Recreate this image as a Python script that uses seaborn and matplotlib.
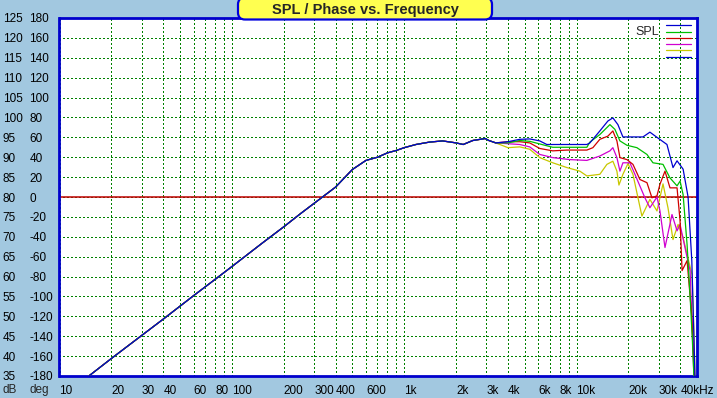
import numpy as np
import pandas as pd
import seaborn as sns
import matplotlib.pyplot as plt
from matplotlib.patches import FancyBboxPatch
from matplotlib.lines import Line2D
from matplotlib.ticker import NullLocator

# shared part of the response (all curves lie on top of each other here)
shared_freq = [12, 14.8, 20, 30, 40, 60, 80, 100, 150, 200, 250, 300, 400, 500, 600,
               700, 800, 900, 1000, 1170, 1400, 1670, 2000, 2200, 2500, 2950, 3100, 3400]
shared_spl = [32.0, 35.0, 39.4, 45.2, 49.3, 55.2, 59.3, 62.5, 68.4, 72.5, 75.8, 78.4, 82.5, 86.9, 89.2,
              90.0, 91.1, 91.7, 92.4, 93.2, 93.8, 94.1, 93.6, 93.2, 94.2, 94.7, 94.2, 93.6]

# high frequency part, one list per curve
blue_freq = [4000, 4680, 5350, 6120, 6720, 8790, 11480, 11950, 13650, 15200, 16250, 17380, 18580,
             20400, 24290, 26650, 29290, 33470, 36290, 38300, 41530, 44380, 46650, 48740]
blue_spl = [93.9, 94.5, 94.6, 94.1, 93.2, 93.2, 93.2, 93.6, 96.6, 99.1, 99.9, 98.2, 95.1,
            95.1, 95.1, 96.3, 95.0, 93.2, 87.4, 89.1, 87.0, 80.0, 64.0, 34.0]

green_freq = [4000, 4680, 5350, 6550, 7280, 11480, 11950, 13650, 15620, 16700, 17860, 19620, 22400,
              25620, 27760, 31750, 34850, 38300, 39880, 41530, 43800, 45600, 47000, 48070]
green_spl = [93.6, 94.2, 94.0, 93.0, 92.5, 92.5, 93.8, 95.7, 98.2, 97.0, 94.1, 93.0, 92.4,
             90.7, 88.6, 88.2, 84.8, 82.8, 84.0, 80.6, 68.0, 55.0, 44.0, 34.0]

red_freq = [4000, 4680, 5350, 6120, 7280, 8790, 11480, 12440, 13650, 15200, 16250, 17150, 17860,
            19620, 21250, 23320, 25620, 27390, 29290, 30480, 32600, 34850, 38300, 39880, 40960,
            43800, 46650, 48400]
red_spl = [93.9, 93.9, 93.6, 92.2, 91.6, 91.8, 91.8, 92.4, 94.5, 95.3, 96.6, 94.1, 89.9,
           89.4, 88.2, 84.4, 83.6, 79.8, 80.3, 83.2, 86.5, 82.3, 82.3, 74.0, 61.5,
           64.0, 50.0, 34.0]

magenta_freq = [4000, 4680, 5350, 6120, 7280, 9150, 11480, 13650, 15620, 16250, 17150, 17860, 18580,
                20400, 21820, 24930, 26650, 29290, 30480, 32600, 35800, 38300, 39880, 43800,
                45600, 48070]
magenta_spl = [93.4, 93.2, 92.6, 90.7, 89.9, 89.4, 89.2, 90.3, 91.6, 92.4, 89.9, 86.5, 88.6,
               88.6, 85.7, 79.8, 77.3, 80.0, 76.5, 67.3, 75.6, 71.5, 73.1, 64.8,
               61.5, 34.0]

yellow_freq = [4000, 4680, 5350, 6120, 7280, 8790, 10450, 11480, 13650, 15000, 16250, 17150, 17620,
               18580, 19880, 21250, 23950, 26650, 29290, 31750, 33930, 36290, 38830, 41530,
               43800, 46800, 48070, 48740]
yellow_spl = [92.4, 92.6, 92.0, 89.9, 88.6, 87.4, 86.5, 85.3, 85.7, 88.2, 89.0, 86.5, 83.0,
              85.7, 88.4, 85.7, 75.2, 79.4, 76.5, 83.3, 77.3, 69.3, 73.1, 69.8,
              65.5, 60.5, 45.0, 34.0]

db_ticks = list(range(35, 130, 5))
deg_ticks = list(range(-180, 200, 20))
grid_freq = [10, 20, 30, 40, 50, 60, 70, 80, 90,
             100, 200, 300, 400, 500, 600, 700, 800, 900,
             1000, 2000, 3000, 4000, 5000, 6000, 7000, 8000, 9000,
             10000, 20000, 30000, 40000]
freq_labels = {10: "10", 20: "20", 30: "30", 40: "40", 60: "60", 80: "80", 100: "100",
               200: "200", 300: "300", 400: "400", 600: "600", 1000: "1k", 2000: "2k",
               3000: "3k", 4000: "4k", 6000: "6k", 8000: "8k", 10000: "10k",
               20000: "20k", 30000: "30k", 40000: "40kHz"}

curves = {
    "yellow": (yellow_freq, yellow_spl, "#c8c800"),
    "magenta": (magenta_freq, magenta_spl, "#d000d0"),
    "red": (red_freq, red_spl, "#d00000"),
    "green": (green_freq, green_spl, "#00c000"),
    "blue": (blue_freq, blue_spl, "#0000d0"),
}

rows = []
for name, (fr, sp, _) in curves.items():
    for f, s in zip(shared_freq + fr, shared_spl + sp):
        rows.append((name, f, s))
df = pd.DataFrame(rows, columns=["curve", "freq", "spl"])
palette = {name: c for name, (_, _, c) in curves.items()}

sns.set_style("white")
plt.rcParams['font.family'] = ['Liberation Sans', 'DejaVu Sans']

bg = "#a2c8e0"
frame = "#0000cc"
fs = 8.5
fig = plt.figure(figsize=(7.17, 3.98), dpi=100, facecolor=bg)
ax = fig.add_axes([59.5 / 717, 22 / 398, 637.5 / 717, 358 / 398])
ax.set_facecolor("white")

sns.lineplot(data=df, x="freq", y="spl", hue="curve", palette=palette, hue_order=list(curves),
             estimator=None, legend=False, lw=0.9, ax=ax, zorder=3)

ax.set_xscale("log")
ax.set_xlim(10, 50000)
ax.set_ylim(35, 125)
ax.set_xlabel("")
ax.set_ylabel("")

ax.set_xticks(grid_freq, [freq_labels.get(f, "") for f in grid_freq])
ax.xaxis.set_minor_locator(NullLocator())
ax.set_yticks(db_ticks, [str(v) for v in db_ticks])
ax.tick_params(axis="both", length=0, labelsize=fs, colors="black")
ax.tick_params(axis="x", pad=6.5)
ax.tick_params(axis="y", pad=41)
for lab in ax.get_xticklabels() + ax.get_yticklabels():
    lab.set_horizontalalignment("left")

# crisp dotted grid like the original screen capture
ax.grid(True, color="#008000", linestyle=(0, (1, 2)), linewidth=0.75, antialiased=False, zorder=1)
ax.axhline(80, color="#c00000", lw=1.1, zorder=2)

for sp in ax.spines.values():
    sp.set_color(frame)
    sp.set_linewidth(2)
    sp.set_visible(True)

ax2 = ax.twinx()
ax2.set_ylim(-180, 180)
ax2.yaxis.tick_left()
ax2.set_yticks(deg_ticks, [str(v) for v in deg_ticks])
ax2.tick_params(axis="y", length=0, labelsize=fs, pad=21.6, colors="black")
for lab in ax2.get_yticklabels():
    lab.set_horizontalalignment("left")
for sp in ax2.spines.values():
    sp.set_visible(False)
ax2.grid(False)

fig.text(3 / 717, 1 - 390 / 398, "dB", fontsize=fs, ha="left", va="center")
fig.text(30 / 717, 1 - 390 / 398, "deg", fontsize=fs, ha="left", va="center")

# legend: six short lines with "SPL" to the left
handles = [Line2D([], [], color=palette[n], lw=0.9) for n in ["blue", "green", "red", "magenta", "yellow", "blue"]]
leg = ax.legend(handles, [" "] * 6, loc="upper right", bbox_to_anchor=(1 - 5 / 637.5, 1 - 5 / 358),
                frameon=False, fontsize=3.6, labelspacing=0.25, handlelength=5.0,
                handletextpad=0, borderpad=0, borderaxespad=0, markerfirst=True)
leg.set_zorder(5)
ax.text(0.94, 0.96, "SPL", transform=ax.transAxes, fontsize=9, ha="right", va="center", zorder=5)

# title box
box = FancyBboxPatch((238, 378.5), 254, 22, boxstyle="round,pad=0,rounding_size=7",
                     transform=None, facecolor="#ffff50", edgecolor="#0000dd", lw=1.6, zorder=10)
fig.patches.append(box)
fig.text(365 / 717, 1 - 10 / 398, "SPL / Phase vs. Frequency", fontsize=10.5, fontweight="bold",
         ha="center", va="center", zorder=11)

fig.savefig("out.png", dpi=100, facecolor=bg)
